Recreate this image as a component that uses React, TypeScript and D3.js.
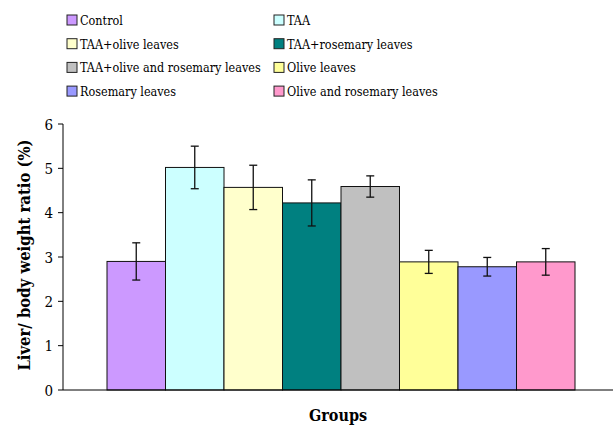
import * as d3 from "d3";
import { useEffect, useRef } from "react";

const groups = [
  "Control",
  "TAA",
  "TAA+olive leaves",
  "TAA+rosemary leaves",
  "TAA+olive and rosemary leaves",
  "Olive leaves",
  "Rosemary leaves",
  "Olive and rosemary leaves",
];
const means = [2.9, 5.02, 4.57, 4.22, 4.59, 2.89, 2.78, 2.89];
const errors = [0.42, 0.48, 0.5, 0.52, 0.24, 0.26, 0.21, 0.3];
const colors = ["#CC99FF", "#CCFFFF", "#FFFFCC", "#008080", "#C0C0C0", "#FFFF99", "#9999FF", "#FF99CC"];
const yTicks = [0, 1, 2, 3, 4, 5, 6];

export default function App() {
  const svgRef = useRef<SVGSVGElement>(null);
  const width = 613;
  const height = 427;

  useEffect(() => {
    const svg = d3.select(svgRef.current);
    svg.selectAll("*").remove();
    const font = '"DejaVu Serif Condensed", "DejaVu Serif", serif';

    const yScale = d3.scaleLinear([0, 6], [390, 124]);
    const xScale = d3.scaleBand(groups, [107, 575]).padding(0);

    // legend
    const legend = svg.append("g");
    groups.forEach((g, i) => {
      const col = i % 2;
      const row = Math.floor(i / 2);
      const lx = col === 0 ? 67 : 274;
      const ly = 20 + row * 23.7;
      legend.append("rect")
        .attr("x", lx).attr("y", ly - 5)
        .attr("width", 10).attr("height", 10)
        .attr("fill", colors[i]).attr("stroke", "#222").attr("stroke-width", 1);
      legend.append("text")
        .attr("x", lx + 13).attr("y", ly + 5)
        .style("font-family", font).style("font-stretch", "condensed").attr("font-size", 12.5)
        .text(g);
    });

    // bars
    svg.selectAll("rect.bar")
      .data(groups)
      .join("rect")
      .attr("class", "bar")
      .attr("x", d => xScale(d)!)
      .attr("y", (d, i) => yScale(means[i]))
      .attr("width", xScale.bandwidth())
      .attr("height", (d, i) => yScale(0) - yScale(means[i]))
      .attr("fill", (d, i) => colors[i])
      .attr("stroke", "#111")
      .attr("stroke-width", 1);

    // error bars
    groups.forEach((g, i) => {
      const cx = xScale(g)! + xScale.bandwidth() / 2;
      const hi = yScale(means[i] + errors[i]);
      const lo = yScale(means[i] - errors[i]);
      const e = svg.append("g").attr("stroke", "#111").attr("stroke-width", 1.3);
      e.append("line").attr("x1", cx).attr("x2", cx).attr("y1", hi).attr("y2", lo);
      e.append("line").attr("x1", cx - 4).attr("x2", cx + 4).attr("y1", hi).attr("y2", hi);
      e.append("line").attr("x1", cx - 4).attr("x2", cx + 4).attr("y1", lo).attr("y2", lo);
    });

    // axes
    svg.append("line").attr("x1", 63).attr("x2", 63).attr("y1", yScale(6)).attr("y2", yScale(0))
      .attr("stroke", "#000").attr("stroke-width", 1);
    svg.append("line").attr("x1", 63).attr("x2", 613).attr("y1", yScale(0)).attr("y2", yScale(0))
      .attr("stroke", "#000").attr("stroke-width", 1);

    yTicks.forEach(t => {
      svg.append("line").attr("x1", 58).attr("x2", 63).attr("y1", yScale(t)).attr("y2", yScale(t))
        .attr("stroke", "#000");
      svg.append("text")
        .attr("x", 53).attr("y", yScale(t) + 5.5)
        .attr("text-anchor", "end")
        .style("font-family", font).style("font-stretch", "condensed").attr("font-size", 15)
        .text(t);
    });

    svg.append("text")
      .attr("transform", `translate(30, ${yScale(3) - 2}) rotate(-90)`)
      .attr("text-anchor", "middle")
      .style("font-family", font).style("font-stretch", "condensed").attr("font-size", 16.5).attr("font-weight", "bold")
      .text("Liver/ body weight ratio (%)");

    svg.append("text")
      .attr("x", 338).attr("y", 421)
      .attr("text-anchor", "middle")
      .style("font-family", font).style("font-stretch", "condensed").attr("font-size", 16).attr("font-weight", "bold")
      .text("Groups");
  }, []);

  return (
    <div style={{ position: "fixed", left: 0, top: 0 }}>
      <svg ref={svgRef} width={width} height={height} viewBox={`0 0 ${width} ${height}`} style={{ display: "block", background: "#fff" }} />
    </div>
  );
}
